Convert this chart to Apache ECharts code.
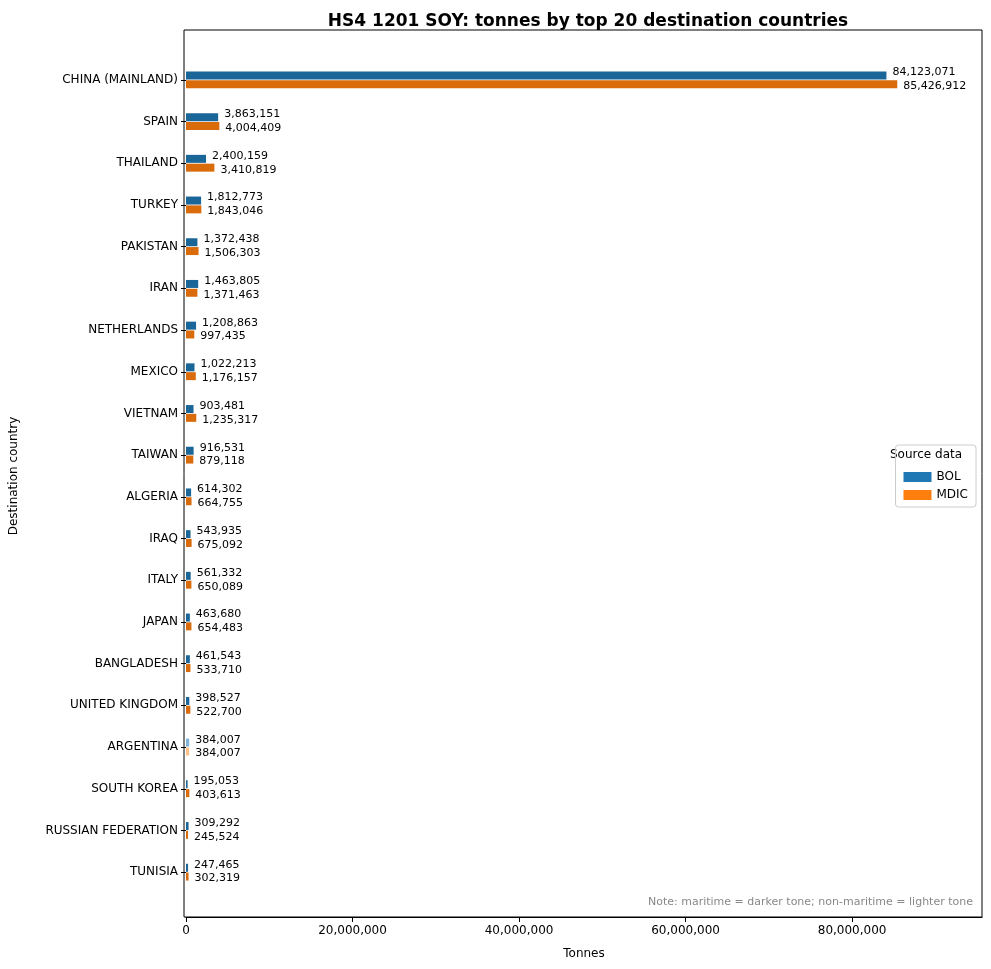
<!DOCTYPE html>
<html><head><meta charset="utf-8">
<script src="https://cdn.jsdelivr.net/npm/echarts@6/dist/echarts.min.js"></script>
<style>html,body{margin:0;padding:0;background:#fff}#c{width:991px;height:969px}</style>
</head><body><div id="c"></div>
<script>
const categories = ["CHINA (MAINLAND)","SPAIN","THAILAND","TURKEY","PAKISTAN","IRAN","NETHERLANDS","MEXICO","VIETNAM","TAIWAN","ALGERIA","IRAQ","ITALY","JAPAN","BANGLADESH","UNITED KINGDOM","ARGENTINA","SOUTH KOREA","RUSSIAN FEDERATION","TUNISIA"];
const bolValues = [84123071,3863151,2400159,1812773,1372438,1463805,1208863,1022213,903481,916531,614302,543935,561332,463680,461543,398527,384007,195053,309292,247465];
const mdicValues = [85426912,4004409,3410819,1843046,1506303,1371463,997435,1176157,1235317,879118,664755,675092,650089,654483,533710,522700,384007,403613,245524,302319];
const nonMaritime = ["ARGENTINA"];
const fmt = v => v.toLocaleString('en-US');
function mk(vals, dark, light){
  return vals.map((v,i)=>({value:v,itemStyle:{color: nonMaritime.includes(categories[i]) ? light : dark}}));
}
const lbl = dy => ({show:true,position:'right',distance:6,offset:[0,dy],fontSize:11,color:'#000',fontFamily:'DejaVu Sans',formatter:p=>fmt(p.value)});
const chart = echarts.init(document.getElementById('c'));
chart.setOption({
  animation:false,
  textStyle:{fontFamily:'DejaVu Sans'},
  title:{text:'HS4 1201 SOY: tonnes by top 20 destination countries',left:583,textAlign:'center',top:8,textStyle:{fontSize:17,fontWeight:'bold',color:'#000'}},
  grid:{left:184,right:9,top:59,bottom:76},
  xAxis:{type:'value',min:0,max:95600000,interval:20000000,offset:24,
    axisLine:{show:true,lineStyle:{color:'#000'}},axisTick:{show:true,length:5,lineStyle:{color:'#000'}},
    axisLabel:{color:'#000',fontSize:12,formatter:v=>fmt(v),showMaxLabel:false},
    splitLine:{show:false},name:'Tonnes',nameLocation:'middle',nameGap:31,nameTextStyle:{color:'#000',fontSize:12}},
  yAxis:{type:'category',data:categories,inverse:true,
    axisLine:{show:false},axisTick:{show:true,length:5,alignWithLabel:true,lineStyle:{color:'#000'}},
    axisLabel:{color:'#000',fontSize:12,margin:8},
    name:'Destination country',nameLocation:'middle',nameGap:166,nameTextStyle:{color:'#000',fontSize:12}},
  legend:{data:['BOL','MDIC'],orient:'vertical',right:15,top:445,icon:'rect',itemWidth:28,itemHeight:10,itemGap:6,
    padding:[26,8,6,8],borderColor:'#ccc',borderWidth:1,borderRadius:3,textStyle:{fontSize:12,color:'#000'}},
  graphic:[
    {type:'text',left:890,top:449,style:{text:'Source data',fontSize:12,fill:'#000',fontFamily:'DejaVu Sans'}},
    {type:'text',right:18,top:897,style:{text:'Note: maritime = darker tone; non-maritime = lighter tone',fontSize:11,fill:'#888',fontFamily:'DejaVu Sans'}},
    {type:'rect',shape:{x:184,y:30,width:798,height:887},style:{fill:'none',stroke:'#000',lineWidth:1},silent:true}
  ],
  series:[
    {name:'BOL',type:'bar',barWidth:8,barGap:'10%',itemStyle:{color:'#1f77b4'},data:mk(bolValues,'#1b6699','#7fb3d9'),label:lbl(-3)},
    {name:'MDIC',type:'bar',barWidth:8,barGap:'10%',itemStyle:{color:'#ff7f0e'},data:mk(mdicValues,'#d96b0b','#ffbf86'),label:lbl(2)}
  ]
});
</script></body></html>
